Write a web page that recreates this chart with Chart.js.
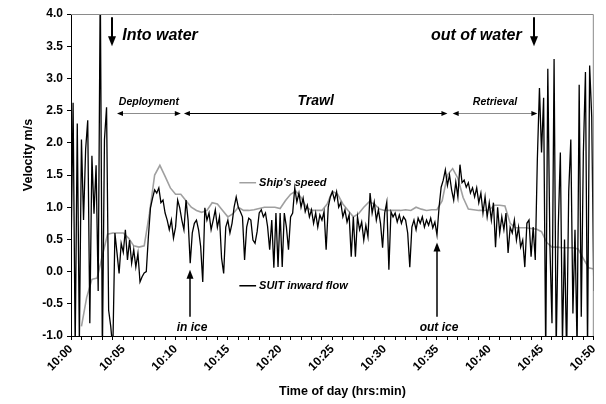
<!DOCTYPE html>
<html>
<head>
<meta charset="utf-8">
<script src="https://cdn.jsdelivr.net/npm/chart.js@4"></script>
<style>
  html, body { margin: 0; padding: 0; background: #fff; }
  #wrap { width: 606px; height: 404px; }
</style>
</head>
<body>
<div id="wrap"><canvas id="chart" width="606" height="404"></canvas></div>
<script>
// === DATEN ===
// Zeitachse in Minuten nach 10:00
const TIME_TICK_LABELS = ['10:00', '10:05', '10:10', '10:15', '10:20', '10:25',
                          '10:30', '10:35', '10:40', '10:45', '10:50'];
const SUIT_STEP_MIN = 0.2;   // Abtastintervall SUIT-Durchfluss
const SHIP_STEP_MIN = 0.5;   // Abtastintervall Schiffsgeschwindigkeit

// SUIT inward flow (m/s), alle 0.2 min ab 10:00
const suitFlow = [
    0.2, 2.62, -1.2, 2.3, -1.1, 2.05, 0.8, 1.9, 2.35, -0.8,
    1.8, 0.9, 1.65, -0.3, 4.5, -1.3, 2.05, 2.55, -0.6, -0.85,
    -1.2, 0.6, 0.29, -0.03, 0.44, 0.3, 0.65, 0.18, 0.49, 0.13,
    0.34, 0.07, 0.28, -0.16, -0.08, -0.02, 0.0, 0.54, 0.99, 1.14,
    1.27, 1.22, 1.3, 1.07, 1.11, 0.91, 0.8, 0.65, 0.8, 0.52,
    0.69, 1.11, 0.99, 0.8, 0.65, 1.11, 0.8, 0.13, 0.6, 0.75,
    0.8, 0.65, 0.39, -0.16, 0.99, 0.8, 0.91, 0.65, 0.8, 0.96,
    0.69, 0.85, 0.21, -0.03, 0.69, 0.8, 0.6, 0.75, 1.0, 1.16,
    1.0, 0.93, 0.85, 0.18, 0.69, 0.83, 0.8, 0.49, 0.44, 0.62,
    0.91, 0.96, 0.85, 0.91, 0.7, 0.34, 0.8, 0.06, 0.91, 0.07,
    0.91, 0.07, 0.91, 0.69, 0.34, 0.85, 0.91, 1.3, 1.08, 1.22,
    1.0, 1.14, 0.93, 1.03, 0.85, 0.96, 0.75, 0.91, 0.69, 0.88,
    0.8, 0.93, 0.34, 1.0, 1.16, 1.24, 1.11, 1.24, 1.0, 1.07,
    0.85, 0.96, 0.77, 0.88, 0.23, 0.85, 0.23, 0.85, 0.65, 0.77,
    0.49, 0.72, 0.54, 1.22, 0.91, 1.08, 0.8, 0.96, 0.75, 0.37,
    0.91, 1.08, 0.03, 0.93, 0.85, 0.91, 0.77, 0.88, 0.75, 0.85,
    0.8, 0.6, 0.07, 0.69, 0.8, 0.65, 0.83, 0.75, 0.85, 0.69,
    0.8, 0.72, 0.83, 0.68, 0.77, 0.57, 1.0, 1.31, 1.42, 1.58,
    1.34, 1.5, 1.27, 1.11, 1.39, 1.16, 1.66, 1.38, 1.42, 1.31,
    1.38, 1.22, 1.3, 1.16, 1.3, 1.07, 1.22, 0.91, 1.16, 0.85,
    1.07, 0.8, 1.07, 0.38, 1.0, 0.6, 0.85, 0.65, 0.91, 0.29,
    0.69, 0.6, 0.8, 0.49, 0.69, 0.38, 0.49, 0.07, 0.75, 0.8,
    0.23, 0.69, 0.18, 1.75, 2.85, 1.85, 2.7, -1.3, 3.15, 0.4,
    -0.8, 3.3, -1.2, 0.7, 1.85, -1.1, 0.5, -1.3, 1.25, 2.05,
    -0.65, 0.65, -1.2, 2.9, -0.7, 1.85, 3.1, -1.2, 3.2, 2.4,
    -0.3
];

// Ship's speed (m/s), alle 0.5 min ab 10:00
const shipSpeed = [
    null, null, -0.85, -0.4, -0.12, -0.1, 0.25, 0.58, 0.6, 0.6,
    0.6, 0.52, 0.4, 0.38, 0.4, 0.9, 1.5, 1.65, 1.48, 1.3,
    1.2, 1.2, 1.1, 1.0, 0.95, 0.92, 0.95, 1.07, 1.05, 0.95,
    0.85, 0.9, 1.0, 0.95, 0.95, 0.96, 0.98, 1.0, 1.0, 1.0,
    0.98, 1.1, 1.2, 1.25, 1.15, 1.0, 0.95, 0.95, 0.95, 1.05,
    1.25, 1.2, 1.05, 0.95, 0.85, 0.9, 1.0, 1.08, 1.05, 0.97,
    0.95, 0.95, 0.95, 0.95, 0.96, 0.95, 1.0, 0.97, 0.95, 0.96,
    0.96, 1.1, 1.5, 1.6, 1.45, 1.15, 0.97, 0.96, 0.95, 0.95,
    0.96, 1.03, 1.03, 1.02, 0.75, 0.68, 0.68, 0.68, 0.67, 0.66,
    0.62, 0.45, 0.38, 0.38, 0.37, 0.37, 0.37, 0.35, 0.2, 0.06,
    0.04
];

// Phasen (Minuten) mit Doppelpfeil
const phases = [
    { label: 'Deployment', from: 4.4, to: 10.5, main: false },
    { label: 'Trawl', from: 10.8, to: 36.0, main: true },
    { label: 'Retrieval', from: 36.5, to: 44.6, main: false }
];
const PHASE_LEVEL = 2.47;
const PHASE_TEXT_LEVEL = 2.58;

// Wasser-Ereignisse (Pfeil nach unten)
const waterEvents = [
    { label: 'Into water', arrowAt: 3.94, textAt: 4.9, align: 'left' },
    { label: 'out of water', arrowAt: 44.3, textAt: 43.1, align: 'right' }
];
const WATER_ARROW_TOP = 3.95, WATER_ARROW_TIP = 3.5, WATER_TEXT_LEVEL = 3.6;

// Eis-Ereignisse (Pfeil nach oben)
const iceEvents = [
    { label: 'in ice', at: 11.35, tip: 0.03 },
    { label: 'out ice', at: 35.0, tip: 0.45 }
];
const ICE_ARROW_TAIL = -0.7, ICE_TEXT_LEVEL = -0.93;

// Beschriftungen im Diagramm
const seriesLabels = [
    { label: "Ship's speed", level: 1.38, color: '#a0a0a0' },
    { label: 'SUIT inward flow', level: -0.22, color: '#000000' }
];
const SERIES_LABEL_FROM = 16.1, SERIES_LABEL_TO = 17.7;

// === HILFSFUNKTIONEN ===
const toPoints = (values, step) => values.map((v, i) => ({ x: i * step, y: v }));

function drawArrowHead(ctx, x, y, dx, dy, len, half) {
    const n = Math.hypot(dx, dy);
    const ux = dx / n, uy = dy / n;
    ctx.beginPath();
    ctx.moveTo(x, y);
    ctx.lineTo(x - ux * len - uy * half, y - uy * len + ux * half);
    ctx.lineTo(x - ux * len + uy * half, y - uy * len - ux * half);
    ctx.closePath();
    ctx.fill();
}

// === ANNOTATIONEN ===
const annotationPlugin = {
    id: 'annotations',
    afterDatasetsDraw(chart) {
        const { ctx, chartArea: a } = chart;
        const xs = chart.scales.x, ys = chart.scales.y;
        const X = v => xs.getPixelForValue(v);
        const Y = v => ys.getPixelForValue(v);
        ctx.save();

        // Rahmen oben/rechts
        ctx.strokeStyle = '#8a8a8a';
        ctx.lineWidth = 1;
        ctx.beginPath();
        ctx.moveTo(a.left, a.top + 0.5);
        ctx.lineTo(a.right - 0.5, a.top + 0.5);
        ctx.lineTo(a.right - 0.5, a.bottom);
        ctx.stroke();

        // Phasen
        phases.forEach(p => {
            const x1 = X(p.from), x2 = X(p.to), y = Math.round(Y(PHASE_LEVEL)) + 0.5;
            ctx.strokeStyle = p.main ? '#000' : '#8c8c8c';
            ctx.lineWidth = 1;
            ctx.beginPath();
            ctx.moveTo(x1 + 4, y);
            ctx.lineTo(x2 - 4, y);
            ctx.stroke();
            ctx.fillStyle = '#000';
            drawArrowHead(ctx, x1, y, -1, 0, 6, 2.5);
            drawArrowHead(ctx, x2, y, 1, 0, 6, 2.5);
            ctx.font = p.main ? 'italic bold 14px "Liberation Sans", Arial' : 'italic bold 10.5px "Liberation Sans", Arial';
            ctx.textAlign = 'center';
            ctx.textBaseline = 'alphabetic';
            ctx.fillText(p.label, (x1 + x2) / 2, Y(PHASE_TEXT_LEVEL));
        });

        // Wasser
        waterEvents.forEach(e => {
            const x = Math.round(X(e.arrowAt));
            const y1 = Y(WATER_ARROW_TOP), y2 = Y(WATER_ARROW_TIP);
            ctx.strokeStyle = '#000';
            ctx.fillStyle = '#000';
            ctx.lineWidth = 2;
            ctx.beginPath();
            ctx.moveTo(x, y1);
            ctx.lineTo(x, y2 - 8);
            ctx.stroke();
            drawArrowHead(ctx, x, y2, 0, 1, 10, 4);
            ctx.font = 'italic bold 16px "Liberation Sans", Arial';
            ctx.textAlign = e.align;
            ctx.textBaseline = 'alphabetic';
            ctx.fillText(e.label, X(e.textAt), Y(WATER_TEXT_LEVEL));
        });

        // Eis
        iceEvents.forEach(e => {
            const x = Math.round(X(e.at));
            const yTip = Y(e.tip), yTail = Y(ICE_ARROW_TAIL);
            ctx.strokeStyle = '#000';
            ctx.fillStyle = '#000';
            ctx.lineWidth = 1.5;
            ctx.beginPath();
            ctx.moveTo(x, yTail);
            ctx.lineTo(x, yTip + 7);
            ctx.stroke();
            drawArrowHead(ctx, x, yTip, 0, -1, 9, 3.5);
            ctx.font = 'italic bold 12px "Liberation Sans", Arial';
            ctx.textAlign = 'center';
            ctx.textBaseline = 'alphabetic';
            ctx.fillText(e.label, x + 2, Y(ICE_TEXT_LEVEL));
        });

        // Serienbeschriftung
        seriesLabels.forEach(s => {
            const y = Y(s.level);
            ctx.strokeStyle = s.color;
            ctx.lineWidth = 1.5;
            ctx.beginPath();
            ctx.moveTo(X(SERIES_LABEL_FROM), y);
            ctx.lineTo(X(SERIES_LABEL_TO), y);
            ctx.stroke();
            ctx.fillStyle = '#000';
            ctx.font = 'italic bold 11px "Liberation Sans", Arial';
            ctx.textAlign = 'left';
            ctx.textBaseline = 'middle';
            ctx.fillText(s.label, X(SERIES_LABEL_TO) + 3, y);
        });

        // Achsentitel
        ctx.fillStyle = '#000';
        ctx.font = 'bold 12.5px "Liberation Sans", Arial';
        ctx.textAlign = 'center';
        ctx.textBaseline = 'middle';
        ctx.fillText('Time of day (hrs:min)', (a.left + a.right) / 2 + 10, 392);
        ctx.translate(29, (a.top + a.bottom) / 2 - 20);
        ctx.rotate(-Math.PI / 2);
        ctx.fillText('Velocity m/s', 0, 0);

        ctx.restore();
    }
};

// === CHART ===
const tickFont = { family: '"Liberation Sans", Arial', size: 12, weight: 'bold' };

new Chart(document.getElementById('chart'), {
    type: 'line',
    data: {
        datasets: [
            {
                label: 'SUIT inward flow',
                data: toPoints(suitFlow, SUIT_STEP_MIN),
                borderColor: '#000',
                borderWidth: 1.3,
                pointRadius: 0,
                tension: 0,
                order: 0
            },
            {
                label: "Ship's speed",
                data: toPoints(shipSpeed, SHIP_STEP_MIN),
                borderColor: '#a0a0a0',
                borderWidth: 1.6,
                pointRadius: 0,
                tension: 0,
                spanGaps: false,
                order: 1
            }
        ]
    },
    options: {
        responsive: false,
        animation: false,
        events: [],
        layout: { padding: { top: 14, right: 2, left: 0, bottom: 0 } },
        plugins: { legend: { display: false }, tooltip: { enabled: false } },
        scales: {
            x: {
                type: 'linear',
                min: 0,
                max: 50,
                afterFit: s => { s.height = 68; },
                border: { display: true, color: '#000', width: 1 },
                grid: { display: true, drawOnChartArea: false, drawTicks: true, tickLength: 4, color: '#000' },
                ticks: {
                    stepSize: 1,
                    autoSkip: false,
                    minRotation: 45,
                    maxRotation: 45,
                    padding: 2,
                    color: '#000',
                    font: tickFont,
                    callback: v => (v % 5 === 0 ? TIME_TICK_LABELS[v / 5] : '')
                }
            },
            y: {
                min: -1,
                max: 4,
                afterFit: s => { s.width = 71; },
                border: { display: true, color: '#000', width: 1 },
                grid: { display: true, drawOnChartArea: false, drawTicks: true, tickLength: 4, color: '#000' },
                ticks: {
                    stepSize: 0.5,
                    padding: 4,
                    color: '#000',
                    font: tickFont,
                    callback: v => v.toFixed(1)
                }
            }
        }
    },
    plugins: [annotationPlugin]
});
</script>
</body>
</html>
